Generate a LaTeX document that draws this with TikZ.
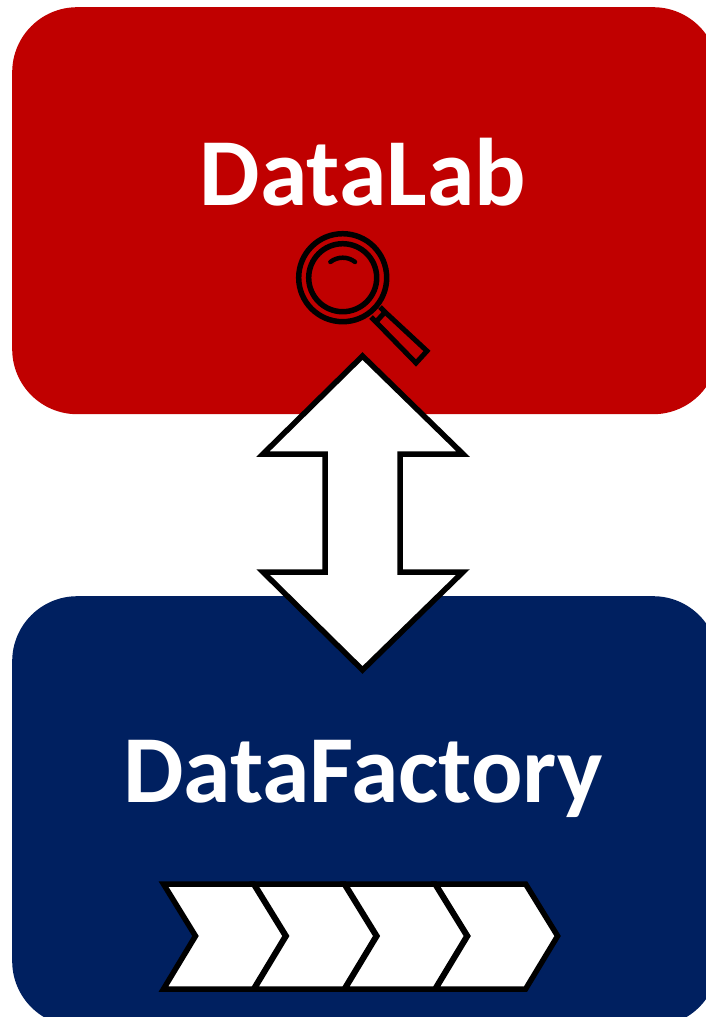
\documentclass[tikz,border=0pt]{standalone}
\usepackage{fontspec}
\setmainfont{Carlito}
\usetikzlibrary{positioning}
\definecolor{labcolor}{HTML}{C00000}
\definecolor{factorycolor}{HTML}{002060}

\begin{document}
\begin{tikzpicture}[x = 1pt, y = -1pt,
                    panel/.style = {rectangle,
                                    rounded corners = 65pt,
                                    anchor = north west,
                                    inner sep = 0pt,
                                    minimum width = 706pt},
                    title/.style = {anchor = base,
                                    text = white,
                                    font = \fontsize{96}{96}\selectfont\bfseries},
                    outline/.style = {draw = black,
                                      line width = 5.5pt,
                                      miter limit = 10},
                    lens/.style = {draw = black,
                                   line width = 5.5pt}]

\useasboundingbox (0,0) rectangle (705,1017);

\node[panel, fill = labcolor, minimum height = 407pt] (lab) at (12,7) {};
\node[panel, fill = factorycolor, minimum height = 430pt] (factory) at (12,596) {};

\node[title] (labtitle) at (363,205) {DataLab};
\node[title] (factorytitle) at (363,802) {DataFactory};

% magnifying glass
\coordinate (glass) at (342.7,277.7);
\draw[lens] (glass) circle (44);
\draw[lens] (glass) circle (34);
\draw[lens, line width = 4.5pt, line cap = round] (glass) ++(-128:20) arc (-128:-52:20);
\draw[lens, line width = 5pt] (380,307) -- (385,312) -- (427,351) -- (416,363) -- (376,322) -- (371,317);
\draw[lens, line width = 5pt] (385,312) -- (376,322);

% link between the two panels
\draw[outline, fill = white] (362.5,356) -- (463,454) -- (400,454) -- (400,572) -- (463,572)
  -- (362.5,670) -- (263,572) -- (325,572) -- (325,454) -- (263,454) -- cycle;

% process chevrons
\foreach \i in {0,1,2,3} {
  \draw[outline, fill = white] (163.5+90.7*\i,884) -- (253.5+90.7*\i,884) -- (285.5+90.7*\i,936)
    -- (253.5+90.7*\i,989) -- (163.5+90.7*\i,989) -- (195.5+90.7*\i,936) -- cycle;
}

\end{tikzpicture}
\end{document}
